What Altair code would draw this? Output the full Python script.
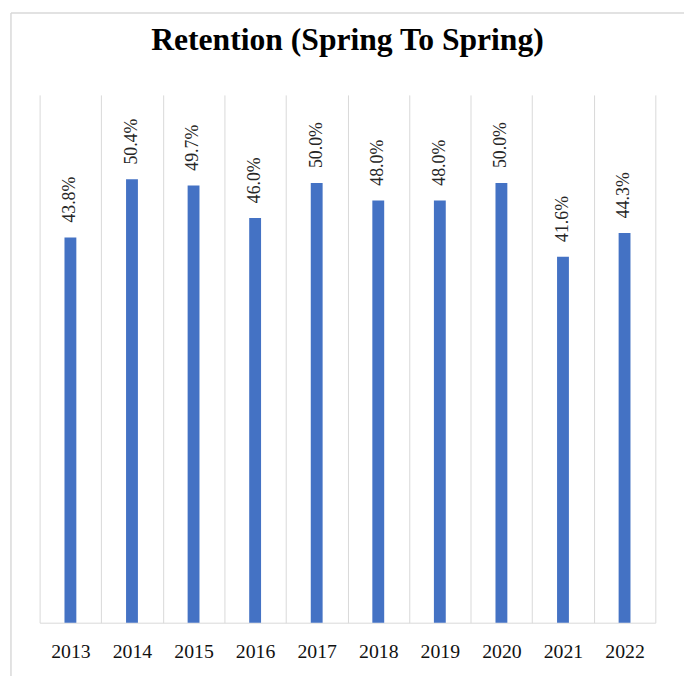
import altair as alt
import pandas as pd

years = ["2013", "2014", "2015", "2016", "2017", "2018", "2019", "2020", "2021", "2022"]
retention = [43.8, 50.4, 49.7, 46.0, 50.0, 48.0, 48.0, 50.0, 41.6, 44.3]
labels = ["43.8%", "50.4%", "49.7%", "46.0%", "50.0%", "48.0%", "48.0%", "50.0%", "41.6%", "44.3%"]

df = pd.DataFrame({"year": years, "retention": retention, "label": labels})

x = alt.X(
    "year:N",
    sort=None,
    title=None,
    scale=alt.Scale(paddingInner=0, paddingOuter=0),
    axis=alt.Axis(
        labelAngle=0,
        grid=True,
        tickBand="extent",
        gridColor="#d9d9d9",
        gridWidth=1,
        domainColor="#d9d9d9",
        domainWidth=1,
        ticks=False,
        tickSize=0,
        labelFont="Liberation Serif",
        labelFontSize=20,
        labelColor="#111111",
        labelPadding=19,
    ),
)
y = alt.Y("retention:Q", scale=alt.Scale(domain=[0, 60]), axis=None)

base = alt.Chart(df)
bars = base.mark_bar(size=12, color="#4472C4").encode(x=x, y=y)
text = base.mark_text(
    angle=270, align="left", baseline="middle", dx=15,
    font="Liberation Serif", fontSize=18, color="#262626",
).encode(x=x, y=y, text="label:N")

frame = alt.Data(values=[{"k": 1}])
left_border = alt.Chart(frame).mark_rule(color="#d9d9d9", strokeWidth=1.5).encode(
    x=alt.value(-29), y=alt.value(-83), y2=alt.value(700)
)
top_border = alt.Chart(frame).mark_rule(color="#d9d9d9", strokeWidth=1.5).encode(
    x=alt.value(-29), x2=alt.value(700), y=alt.value(-83)
)

chart = alt.layer(left_border, top_border, bars, text).properties(
    width=623,
    height=534,
    padding={"left": 32, "top": 84, "right": 29, "bottom": 50},
    autosize=alt.AutoSizeParams(type="none"),
    title=alt.TitleParams(
        "Retention (Spring To Spring)",
        font="Liberation Serif",
        fontSize=32,
        fontWeight="bold",
        color="#000000",
        anchor="middle",
        baseline="alphabetic",
        offset=30,
        dy=100,
    ),
).configure_view(strokeWidth=0)

chart.save("out.html", embed_options={"renderer": "svg", "actions": False})
